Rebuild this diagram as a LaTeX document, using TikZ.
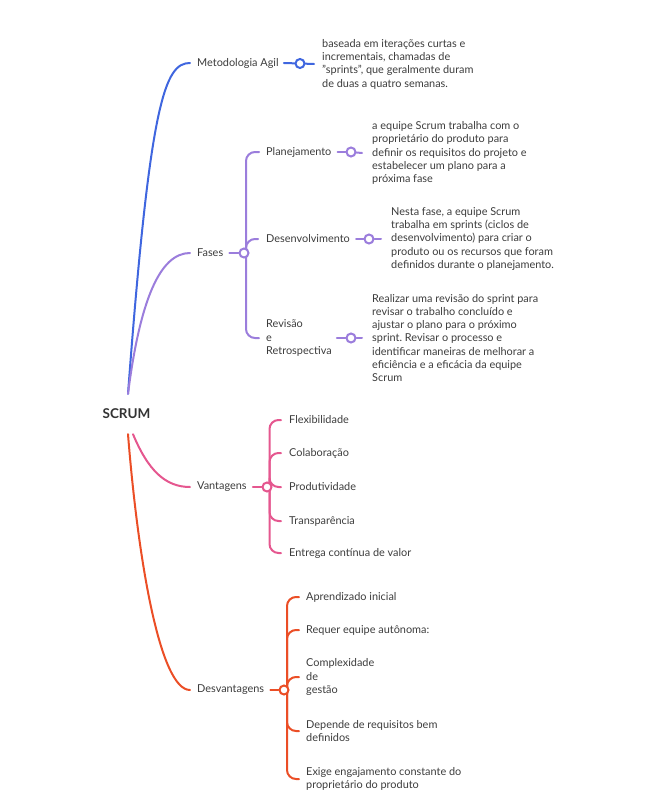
\documentclass[tikz,border=0pt]{standalone}
\usepackage{fontspec}
\setmainfont{Lato}
\usetikzlibrary{calc}
\definecolor{cblue}{HTML}{3F66DF}
\definecolor{cpurp}{HTML}{9B7DDC}
\definecolor{cpink}{HTML}{E5578F}
\definecolor{corng}{HTML}{EB4E26}
\definecolor{ctext}{HTML}{3C3C3C}
\definecolor{croot}{HTML}{333333}
\pgfdeclarelayer{bg}\pgfsetlayers{bg,main}
\frenchspacing
\begin{document}
\begin{tikzpicture}[x=1pt,y=-1pt,
  txt/.style={font=\fontsize{10.9}{13.3}\selectfont, text=ctext, inner sep=0pt, anchor=west, align=left},
  rootnode/.style={font=\fontsize{13.5}{15}\selectfont\bfseries, text=croot, inner sep=0pt, minimum height=40pt},
  hub/.style={circle, draw, fill=white, line width=2pt, minimum size=9pt, inner sep=0pt},
  br/.style={line width=2pt, line cap=round}]
\useasboundingbox (0,0) rectangle (669,808);

% root
\node[rootnode] (root) at (126.5,414) {SCRUM};

% level 1 labels
\node[txt] (agil) at (197,63) {Metodologia Agil};
\node[txt] (fases) at (197,253) {Fases};
\node[txt] (vant) at (197,487) {Vantagens};
\node[txt] (desv) at (197,690) {Desvantagens};

% hubs
\node[hub,draw=cblue] (hA) at (300,63.5) {};
\node[hub,draw=cpurp] (hF) at (244,253) {};
\node[hub,draw=cpink] (hV) at (267,487) {};
\node[hub,draw=corng] (hD) at (284,690) {};

% Metodologia description
\node[txt] (dA) at (322,64) {baseada em iterações curtas e\\incrementais, chamadas de\\"sprints", que geralmente duram\\de duas a quatro semanas.};

% Fases children
\node[txt] (plan) at (266,152) {Planejamento};
\node[txt] (desen) at (266,239) {Desenvolvimento};
\node[txt] (rev) at (266,338) {Revisão\\e\\Retrospectiva};
\node[hub,draw=cpurp] (hP) at (351,152) {};
\node[hub,draw=cpurp] (hDe) at (369,239) {};
\node[hub,draw=cpurp] (hR) at (351,338) {};
\node[txt] (dP) at (372,153) {a equipe Scrum trabalha com o\\proprietário do produto para\\definir os requisitos do projeto e\\estabelecer um plano para a\\próxima fase};
\node[txt] (dDe) at (391,239) {Nesta fase, a equipe Scrum\\trabalha em sprints (ciclos de\\desenvolvimento) para criar o\\produto ou os recursos que foram\\definidos durante o planejamento.};
\node[txt] (dR) at (372,338) {Realizar uma revisão do sprint para\\revisar o trabalho concluído e\\ajustar o plano para o próximo\\sprint. Revisar o processo e\\identificar maneiras de melhorar a\\eficiência e a eficácia da equipe\\Scrum};

% Vantagens children
\node[txt] (v1) at (289,420) {Flexibilidade};
\node[txt] (v2) at (289,453) {Colaboração};
\node[txt] (v3) at (289,487) {Produtividade};
\node[txt] (v4) at (289,521) {Transparência};
\node[txt] (v5) at (289,553) {Entrega contínua de valor};

% Desvantagens children
\node[txt] (d1) at (306,597) {Aprendizado inicial};
\node[txt] (d2) at (306,630) {Requer equipe autônoma:};
\node[txt] (d3) at (306,677) {Complexidade\\de\\gestão};
\node[txt] (d4) at (306,731) {Depende de requisitos bem\\definidos};
\node[txt] (d5) at (306,779) {Exige engajamento constante do\\proprietário do produto};

\begin{pgfonlayer}{bg}
% main branches
\draw[br,cblue] ([xshift=1.5pt]root.north) .. controls (150,100) and (165,63) .. ([xshift=-7pt]agil.west);
\draw[br,cpurp] ([xshift=1.5pt]root.north) .. controls (140,300) and (160,253) .. ([xshift=-7pt]fases.west);
\draw[br,cpink] ([xshift=6.5pt]root.south) .. controls (148,470) and (165,487) .. ([xshift=-7pt]vant.west);
\draw[br,corng] ([xshift=1.5pt]root.south) .. controls (138,560) and (160,690) .. ([xshift=-7pt]desv.west);

% label to hub
\draw[br,cblue] ([xshift=5pt]agil.east) -- (hA);
\draw[br,cblue] (hA) -- ([xshift=-8pt]dA.west);
\draw[br,cpurp] ([xshift=6pt]fases.east) -- (hF);
\draw[br,cpink] ([xshift=6pt]vant.east) -- (hV);
\draw[br,corng] ([xshift=6pt]desv.east) -- (hD);

% Fases spine
\draw[br,cpurp,rounded corners=9pt] (hF.center) ++(2,0) |- ([xshift=-7pt]plan.west);
\draw[br,cpurp,rounded corners=9pt] (hF.center) ++(2,0) |- ([xshift=-8pt]desen.west);
\draw[br,cpurp,rounded corners=9pt] (hF.center) ++(2,0) |- ([xshift=-7pt]rev.west);
\draw[br,cpurp] ([xshift=6pt]plan.east) -- (hP);
\draw[br,cpurp] (hP) -- ([xshift=-10pt]dP.west);
\draw[br,cpurp] ([xshift=6pt]desen.east) -- (hDe);
\draw[br,cpurp] (hDe) -- ([xshift=-10pt]dDe.west);
\draw[br,cpurp] ([xshift=5pt]rev.east) -- (hR);
\draw[br,cpurp] (hR) -- ([xshift=-10pt]dR.west);

% Vantagens spine
\foreach \k in {v1,v2,v3,v4,v5}
  \draw[br,cpink,rounded corners=9pt] (hV.center) ++(2.5,0) |- ([xshift=-8pt]\k.west);

% Desvantagens spine
\foreach \k in {d1,d2,d3,d4,d5}
  \draw[br,corng,rounded corners=9pt] (hD.center) ++(3,0) |- ([xshift=-7pt]\k.west);
\end{pgfonlayer}
\end{tikzpicture}
\end{document}
